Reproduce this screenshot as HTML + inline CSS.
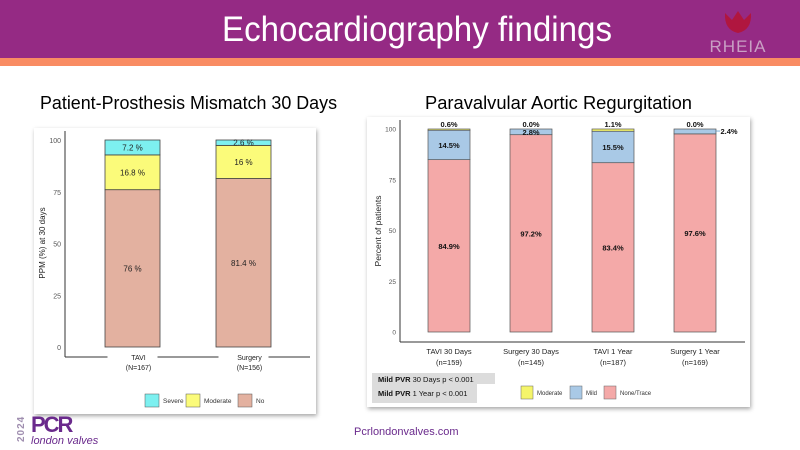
<!DOCTYPE html>
<html><head><meta charset="utf-8">
<style>
body{margin:0;width:800px;height:450px;overflow:hidden;background:#fff;font-family:"Liberation Sans",sans-serif;}
svg{position:absolute;left:0;top:0}
</style></head>
<body>
<svg id="s" width="800" height="450" xmlns="http://www.w3.org/2000/svg">
<defs><filter id="sh" x="-5%" y="-5%" width="110%" height="110%"><feDropShadow dx="1" dy="2" stdDeviation="2" flood-color="#000" flood-opacity="0.35"/></filter></defs>
<rect x="0" y="0" width="800" height="58" fill="#952a84"/>
<rect x="0" y="58" width="800" height="8" fill="#f98c63"/>
<text x="222" y="41" textLength="390" lengthAdjust="spacingAndGlyphs" font-size="35" fill="#fff" font-family="Liberation Sans, sans-serif">Echocardiography findings</text>
<g>
<path d="M725 13 L732 20 L738 11 L744 20 L751 13 Q752 30 738 33 Q724 30 725 13 Z" fill="#b0163f"/>
<text x="738" y="52" text-anchor="middle" font-size="17" fill="#c9a0c4" letter-spacing="1">RHEIA</text>
</g>
<text x="40" y="109" textLength="297" lengthAdjust="spacingAndGlyphs" font-size="18" fill="#000">Patient-Prosthesis Mismatch 30 Days</text>
<text x="425" y="109" textLength="267" lengthAdjust="spacingAndGlyphs" font-size="18" fill="#000">Paravalvular Aortic Regurgitation</text>
<rect x="34" y="128" width="282" height="286" fill="#fff" filter="url(#sh)"/>
<rect x="367" y="117" width="383" height="290" fill="#fff" filter="url(#sh)"/>
<g id="L"></g><g id="R"></g>
<g>
<text x="0" y="0" transform="translate(24,442) rotate(-90)" font-size="10" font-weight="bold" fill="#a08fb0" letter-spacing="1">2024</text>
<text x="31" y="432" font-size="22" font-weight="bold" fill="#6a2a8c" letter-spacing="-2">PCR</text>
<text x="31" y="444" font-size="11" font-style="italic" fill="#6a2a8c">london valves</text>
</g>
<text x="354" y="435" font-size="11" fill="#6a2a8c">Pcrlondonvalves.com</text>
</svg>
<script>
const NS="http://www.w3.org/2000/svg";
// Left chart data
const leftCats=["TAVI","Surgery"];
const leftN=["(N=167)","(N=156)"];
const leftNo=[76,81.4];
const leftModerate=[16.8,16];
const leftSevere=[7.2,2.6];
const leftNoLbl=["76 %","81.4 %"];
const leftModLbl=["16.8 %","16 %"];
const leftSevLbl=["7.2 %","2.6 %"];
const ticks=[0,25,50,75,100];
// Right chart data
const rightCats=["TAVI 30 Days","Surgery 30 Days","TAVI 1 Year","Surgery 1 Year"];
const rightN=["(n=159)","(n=145)","(n=187)","(n=169)"];
const rightNone=[84.9,97.2,83.4,97.6];
const rightMild=[14.5,2.8,15.5,2.4];
const rightModerate=[0.6,0,1.1,0];

function el(p,tag,a,txt){const e=document.createElementNS(NS,tag);for(const k in a)e.setAttribute(k,a[k]);if(txt!==undefined)e.textContent=txt;p.appendChild(e);return e;}

// LEFT
(function(){
const g=document.getElementById('L');
const y=v=>347-v*2.07;
const xc=i=>132.5+i*111;const bw=55;
el(g,'line',{x1:65,y1:357,x2:310,y2:357,stroke:'#333','stroke-width':1});
el(g,'line',{x1:65,y1:131,x2:65,y2:357,stroke:'#333','stroke-width':1});
ticks.forEach(t=>{const e=el(g,'text',{x:61,y:y(t)+3,'text-anchor':'end','font-size':7,fill:'#555'},t);

});
const yl=el(g,'text',{transform:'translate(45,243) rotate(-90)','text-anchor':'middle','font-size':8,fill:'#222'},'PPM (%) at 30 days');


leftCats.forEach((c,i)=>{
 const x=xc(i)-bw/2;
 const segs=[[0,leftNo[i],'#e3b1a0',leftNoLbl[i],'bar-no'],[leftNo[i],leftModerate[i],'#fbfb7a',leftModLbl[i],'bar-moderate'],[leftNo[i]+leftModerate[i],leftSevere[i],'#7df0f0',leftSevLbl[i],'bar-severe']];
 segs.forEach(s=>{const r=el(g,'rect',{x:x,y:y(s[0]+s[1]),width:bw,height:s[1]*2.07,fill:s[2],stroke:'#444','stroke-width':0.8});
 
 
 const t=el(g,'text',{x:xc(i),y:y(s[0]+s[1]/2)+3,'text-anchor':'middle','font-size':8,fill:'#222'},s[3]);
 
 });
 el(g,'rect',{x:xc(i)-25,y:352,width:50,height:30,fill:'#fff'});
 const a=el(g,'text',{x:xc(i)+6,y:360,'text-anchor':'middle','font-size':7,fill:'#222'},c);
 
 
 el(g,'text',{x:xc(i)+6,y:370,'text-anchor':'middle','font-size':7,fill:'#222'},leftN[i]);
});
[['#7df0f0','Severe',145],['#fbfb7a','Moderate',186],['#e3b1a0','No',238]].forEach(l=>{
 const r=el(g,'rect',{x:l[2],y:394,width:14,height:13,fill:l[0],stroke:'#555','stroke-width':0.5});
 
 
 el(g,'text',{x:l[2]+18,y:403,'font-size':6.5,fill:'#333'},l[1]);
});
})();

// RIGHT
(function(){
const g=document.getElementById('R');
const y=v=>332-v*2.03;
const xc=i=>449+i*82;const bw=42;
el(g,'line',{x1:400,y1:342,x2:745,y2:342,stroke:'#333','stroke-width':1});
el(g,'line',{x1:400,y1:120,x2:400,y2:342,stroke:'#333','stroke-width':1});
ticks.forEach(t=>{const e=el(g,'text',{x:396,y:y(t)+2.5,'text-anchor':'end','font-size':6.5,fill:'#555'},t);

});
const yl=el(g,'text',{transform:'translate(381,231) rotate(-90)','text-anchor':'middle','font-size':8.5,fill:'#222'},'Percent of patients');


rightCats.forEach((c,i)=>{
 const x=xc(i)-bw/2;
 const segs=[[0,rightNone[i],'#f4a9a8','bar-none'],[rightNone[i],rightMild[i],'#a9c9e6','bar-mild'],[rightNone[i]+rightMild[i],rightModerate[i],'#f5f56a','bar-moderate']];
 segs.forEach(s=>{if(s[1]<=0)return;const r=el(g,'rect',{x:x,y:y(s[0]+s[1]),width:bw,height:s[1]*2.03,fill:s[2],stroke:'#555','stroke-width':0.7});
 
 });
 const f={'font-size':7.5,'font-weight':'bold',fill:'#111','text-anchor':'middle'};
 const t1=el(g,'text',Object.assign({x:xc(i),y:y(rightNone[i]/2)+3},f),rightNone[i].toFixed(1)+'%');
 
 
 let my=rightMild[i]>5?y(rightNone[i]+rightMild[i]/2)+3:y(100)+6;
 let mx=xc(i);
 if(i==3){mx=xc(i)+bw/2+13;my=y(100)+5;el(g,'line',{x1:xc(i)+bw/2,y1:y(99),x2:mx-9,y2:y(99),stroke:'#4a90c8','stroke-width':0.7});}
 const t2=el(g,'text',Object.assign({x:mx,y:my},f),rightMild[i].toFixed(1)+'%');
 
 
 const t3=el(g,'text',Object.assign({x:xc(i),y:y(100)-2},f),rightModerate[i].toFixed(1)+'%');
 
 
 const a=el(g,'text',{x:xc(i),y:354,'text-anchor':'middle','font-size':7.5,fill:'#222'},c);
 
 
 el(g,'text',{x:xc(i),y:365,'text-anchor':'middle','font-size':7.5,fill:'#222'},rightN[i]);
});
el(g,'rect',{x:372,y:373,width:123,height:11,fill:'#dcdcdc'});
el(g,'rect',{x:372,y:384,width:105,height:19,fill:'#dcdcdc'});
const p1=el(g,'text',{x:378,y:382,'font-size':7.5,fill:'#111'});p1.innerHTML='<tspan font-weight="bold">Mild PVR</tspan> 30 Days p &lt; 0.001';


const p2=el(g,'text',{x:378,y:396,'font-size':7.5,fill:'#111'});p2.innerHTML='<tspan font-weight="bold">Mild PVR</tspan> 1 Year p &lt; 0.001';


[['#f5f56a','Moderate',521],['#a9c9e6','Mild',570],['#f4a9a8','None/Trace',604]].forEach(l=>{
 const r=el(g,'rect',{x:l[2],y:386,width:12,height:13,fill:l[0],stroke:'#666','stroke-width':0.5});
 
 
 el(g,'text',{x:l[2]+16,y:395,'font-size':6,fill:'#333'},l[1]);
});
})();
</script>
</body></html>
